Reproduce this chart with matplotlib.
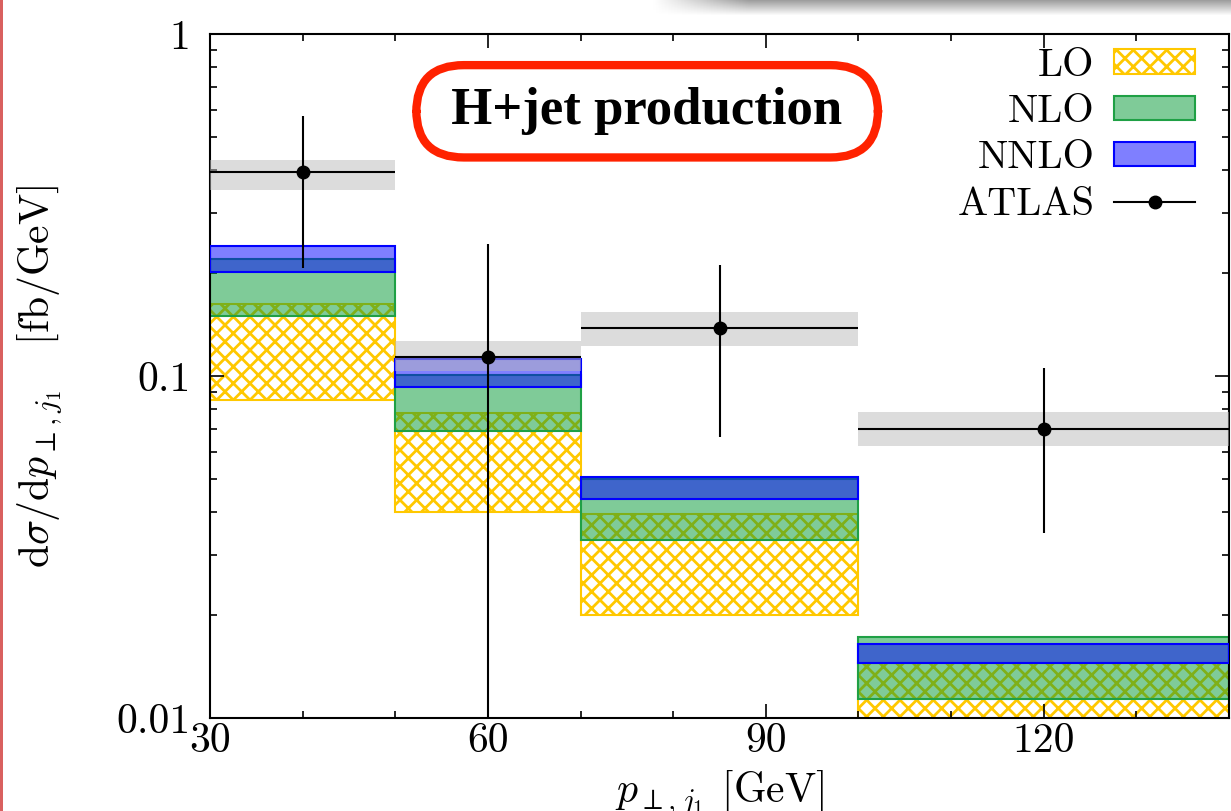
import numpy as np
import matplotlib
matplotlib.use("Agg")
import matplotlib.pyplot as plt
from matplotlib.patches import Patch, Rectangle
from matplotlib.lines import Line2D
from matplotlib.ticker import FixedLocator, MultipleLocator, NullFormatter

# bins in p_T of the leading jet [GeV]
bin_edges = [30, 50, 70, 100, 140]

# theory bands (lower / upper edge) in fb/GeV
lo_low = [0.085, 0.040, 0.020, 0.009]
lo_high = [0.162, 0.078, 0.0395, 0.0145]
nlo_low = [0.150, 0.069, 0.0331, 0.0114]
nlo_high = [0.220, 0.101, 0.0500, 0.0173]
nnlo_low = [0.201, 0.093, 0.0437, 0.0145]
nnlo_high = [0.240, 0.112, 0.0505, 0.0165]

# ATLAS data
atlas_x = [40, 60, 85, 120]
atlas_y = [0.395, 0.114, 0.138, 0.070]
atlas_err_low = [0.207, 0.005, 0.0663, 0.0347]
atlas_err_high = [0.575, 0.243, 0.211, 0.1055]
atlas_band_low = [0.350, 0.1035, 0.122, 0.0624]
atlas_band_high = [0.428, 0.1265, 0.154, 0.0785]

x_ticks = [30, 60, 90, 120]
y_ticks = [0.01, 0.1, 1]
y_tick_labels = ["0.01", "0.1", "1"]

GOLD = "#ffc800"


def main():
    plt.rcParams["font.family"] = ["cmr10", "DejaVu Sans"]
    plt.rcParams["mathtext.fontset"] = "cm"
    plt.rcParams["axes.formatter.use_mathtext"] = True
    plt.rcParams["hatch.linewidth"] = 2.0

    fig = plt.figure(figsize=(12.31, 8.11), dpi=100)
    ax = fig.add_axes([210 / 1231, 93 / 811, 1019 / 1231, 684 / 811])

    edges = np.array(bin_edges, dtype=float)
    left = edges[:-1]
    width = np.diff(edges)

    def band(low, high, **kw):
        low = np.array(low)
        high = np.array(high)
        ax.bar(left, high - low, bottom=low, width=width, align="edge", **kw)

    band(lo_low, lo_high, facecolor="white", edgecolor=GOLD, hatch="xx",
         linewidth=1.5, zorder=1)
    band(nlo_low, nlo_high, facecolor=(0.0, 0.6, 0.2, 0.5),
         edgecolor="#1fa045", linewidth=1.5, zorder=2)
    band(nnlo_low, nnlo_high, facecolor=(0.0, 0.0, 1.0, 0.5),
         edgecolor="#0000ff", linewidth=1.5, zorder=3)
    band(atlas_band_low, atlas_band_high, facecolor=(0.73, 0.73, 0.73, 0.5),
         edgecolor="none", linewidth=0, zorder=4)

    ax_x = np.array(atlas_x, dtype=float)
    ay = np.array(atlas_y)
    xerr = [ax_x - left, edges[1:] - ax_x]
    yerr = [ay - np.array(atlas_err_low), np.array(atlas_err_high) - ay]
    ax.errorbar(ax_x, ay, xerr=xerr, yerr=yerr, fmt="o", color="black",
                markersize=9, elinewidth=1.5, capsize=0, zorder=5)

    ax.set_yscale("log")
    ax.set_xlim(30, 140)
    ax.set_ylim(0.01, 1)

    ax.xaxis.set_major_locator(FixedLocator(x_ticks))
    ax.xaxis.set_minor_locator(MultipleLocator(10))
    ax.set_xticklabels([str(t) for t in x_ticks])
    ax.yaxis.set_major_locator(FixedLocator(y_ticks))
    ax.set_yticklabels(y_tick_labels)
    ax.yaxis.set_minor_formatter(NullFormatter())

    ax.tick_params(which="both", direction="in", top=True, right=True,
                   width=1.2, labelsize=30)
    ax.tick_params(which="major", length=10)
    ax.tick_params(which="minor", length=5)
    ax.tick_params(axis="x", pad=3)
    ax.tick_params(axis="y", pad=14)
    for s in ax.spines.values():
        s.set_linewidth(1.5)

    ax.set_xlabel(r"$p_{\perp,j_1}$ [GeV]", fontsize=30, labelpad=6)
    ax.set_ylabel(r"$\mathrm{d}\sigma/\mathrm{d}p_{\perp,j_1}$   [fb/GeV]",
                  fontsize=30, labelpad=38)

    handles = [
        Patch(facecolor="white", edgecolor=GOLD, hatch="xx", linewidth=1.5),
        Patch(facecolor=(0.0, 0.6, 0.2, 0.5), edgecolor="#1fa045", linewidth=1.5),
        Patch(facecolor=(0.0, 0.0, 1.0, 0.5), edgecolor="#0000ff", linewidth=1.5),
        Line2D([], [], color="black", marker="o", markersize=9, linewidth=1.5),
    ]
    ax.legend(handles, ["LO", "NLO", "NNLO", "ATLAS"], loc="upper right",
              bbox_to_anchor=(1 - 34 / 1019, 1 - 14 / 684), frameon=False,
              markerfirst=False, fontsize=29, handlelength=2.0,
              handleheight=0.55, handletextpad=0.5, labelspacing=0.26,
              borderpad=0, borderaxespad=0)

    ax.text(0.429, 0.887, " H+jet production ", transform=ax.transAxes,
            ha="center", va="center", fontsize=38, fontweight="bold",
            family="Liberation Serif", zorder=10,
            bbox=dict(boxstyle="round,pad=0.42,rounding_size=0.9",
                      facecolor="white", edgecolor="#ff2200", linewidth=6))

    # slide decorations: red line on the left and a shadow at the top
    fig.add_artist(Rectangle((0, 0), 3 / 1231, 1, transform=fig.transFigure,
                             facecolor="#d9605f", edgecolor="none"))
    sh = fig.add_axes([652 / 1231, 1 - 16 / 811, 579 / 1231, 16 / 811])
    gy = np.linspace(0.62, 1.0, 16)[:, None]
    gx = np.clip(np.linspace(0, 6, 200), 0, 1)[None, :]
    grad = 1 - (1 - gy) * gx
    sh.imshow(grad, cmap="gray", vmin=0, vmax=1, aspect="auto")
    sh.axis("off")

    fig.savefig("out.png", dpi=100)
    plt.close(fig)


if __name__ == "__main__":
    main()
